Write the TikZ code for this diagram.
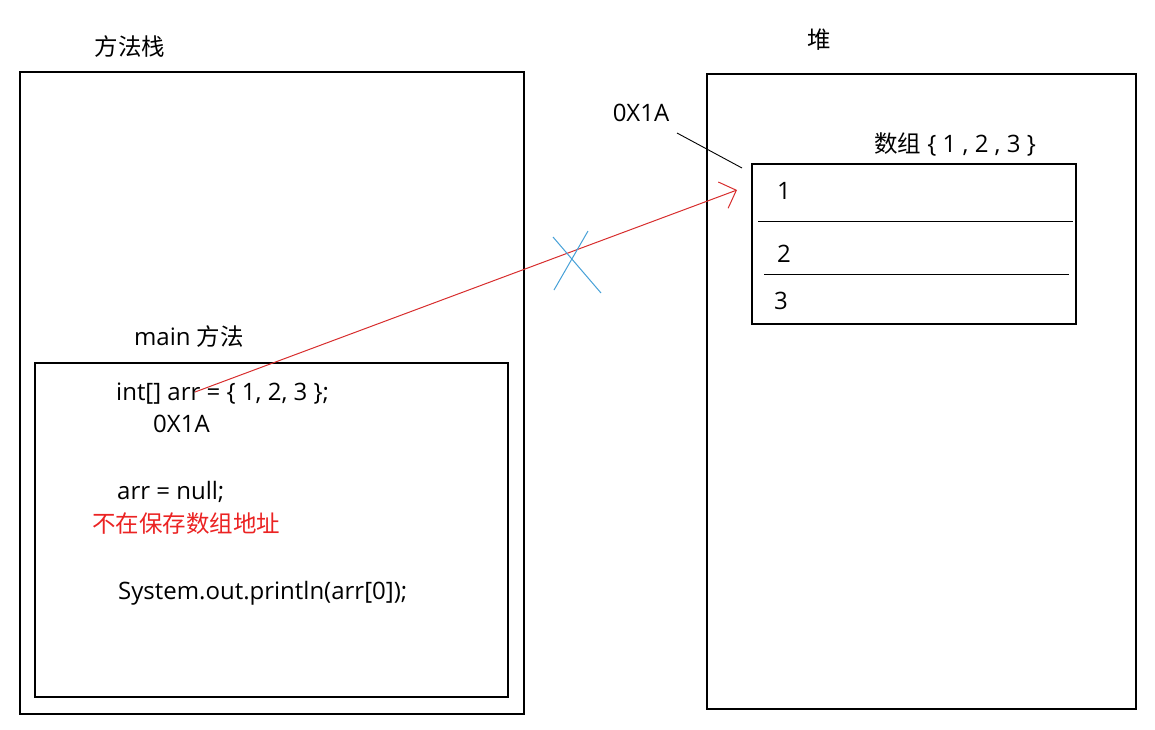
\documentclass[tikz,border=0pt]{standalone}
\usepackage{fontspec}
\setmainfont{Open Sans}
\newfontfamily\cjk{Noto Sans CJK SC}
\usetikzlibrary{arrows.meta}
\definecolor{penred}{RGB}{215,45,45}
\definecolor{textred}{RGB}{235,35,35}
\definecolor{crossblue}{RGB}{70,160,215}
\newcommand{\zh}[1]{{\cjk\fontsize{23.5}{28}\selectfont #1}}
\begin{document}
\begin{tikzpicture}[x=1pt,y=-1pt,
    txt/.style={font=\fontsize{24}{28}\selectfont, inner sep=0pt},
    code/.style={txt, anchor=west},
    frame/.style={line width=1.2pt}]
    \useasboundingbox (0,0) rectangle (1155,729);

    % method stack
    \draw[frame] (20,72) rectangle (524,714);\node[txt] (stack) at (130,47) {\zh{方法栈}};
    \draw[frame] (35,363) rectangle (508,697);\node[txt] (mainm) at (189,337) {main \zh{方法}};
    \node[code] (decl) at (116,394) {int[] arr = \{ 1, 2, 3 \};};
    \node[code] (addr) at (153,424) {0X1A};
    \node[code] (setnull) at (117,492) {arr = null;};
    \node[code, textred] (note) at (92,524) {\zh{不在保存数组地址}};
    \node[code] (print) at (118,593) {System.out.println(arr[0]);};

    % heap
    \draw[frame] (707,74) rectangle (1136,709);\node[txt] (heap) at (819,40) {\zh{堆}};
    \node[txt] (haddr) at (641,113) {0X1A};
    \node[txt] (arrlabel) at (955,145) {\zh{数组} \{ 1 , 2 , 3 \}};
    \draw[frame] (752,164) rectangle (1076,324);
    \draw[line width=1pt] (758,221) -- (1073,221);
    \draw[line width=1pt] (764,274) -- (1069,274);
    \node[txt] (one) at (784,191) {1};
    \node[txt] (two) at (784,254) {2};
    \node[txt] (three) at (781,301) {3};

    \coordinate (lead) at (677,133);
    \coordinate (corner) at (742,168);
    \draw[line width=0.9pt] (lead) -- (corner);

    % reference, crossed out
    \coordinate (arrstart) at (195,392);
    \coordinate (cellone) at (737,190);
    \draw[penred, line width=1pt, -{Straight Barb[length=14pt,width=28pt,line width=1pt]}] (arrstart) -- (cellone);
    \draw[crossblue, line width=1pt] (553,237) -- (601,293);
    \draw[crossblue, line width=1pt] (588,231) -- (554,290);
\end{tikzpicture}
\end{document}
